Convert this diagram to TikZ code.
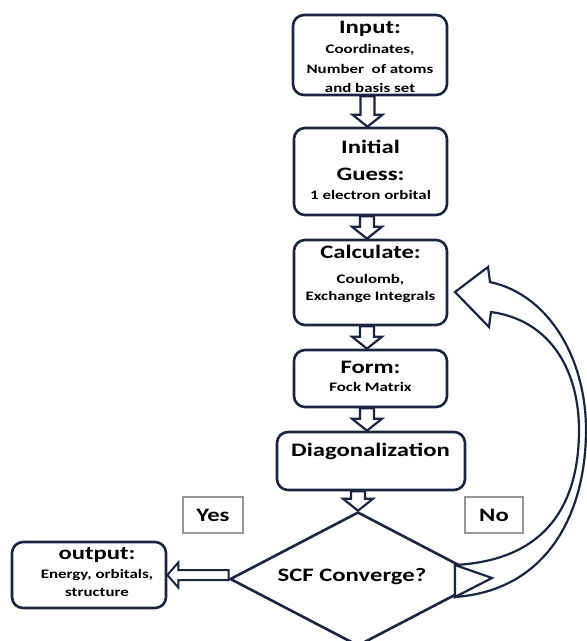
\documentclass[tikz,border=0pt]{standalone}
\usepackage{fontspec}
\setmainfont{Carlito}[FakeStretch=1.3]
\usetikzlibrary{shapes.geometric,calc}
\definecolor{navy}{RGB}{28,37,62}
\definecolor{lgray}{RGB}{150,150,150}
\tikzset{
  box/.style={draw=navy, line width=2.6pt, rounded corners=11pt, fill=white, inner sep=0pt},
  big/.style={anchor=base, inner sep=0pt, font=\bfseries\fontsize{19}{19}\selectfont, text=black},
  sml/.style={anchor=base, inner sep=0pt, font=\bfseries\fontsize{13}{13}\selectfont, text=black},
  tag/.style={draw=lgray, line width=1.1pt, fill=white, inner sep=0pt, font=\bfseries\fontsize{19}{19}\selectfont},
  blk/.style={draw=navy, line width=2.2pt, fill=white, line join=miter},
}
\newcommand\vblock[3]{%
  \draw[blk] let \p1=(#1.south), \p2=(#2.north), \p3=(#3,0) in
    (\x3-7pt,\y1) -- (\x3-7pt,\y2+12pt) -- (\x3-15pt,\y2+12pt) -- (\x3,\y2)
    -- (\x3+15pt,\y2+12pt) -- (\x3+7pt,\y2+12pt) -- (\x3+7pt,\y1) -- cycle;}
\begin{document}
\begin{tikzpicture}[x=1pt,y=-1pt]
\useasboundingbox (0,0) rectangle (587,641);
\fill[white] (0,0) rectangle (587,641);

% boxes
\node[box, minimum width=154pt, minimum height=80pt] (inp) at (370,55) {};
\node[box, minimum width=153pt, minimum height=87pt] (ini) at (370.5,171.5) {};
\node[box, minimum width=153pt, minimum height=85pt] (cal) at (370.5,282.5) {};
\node[box, minimum width=153pt, minimum height=57pt] (frm) at (370.5,378.5) {};
\node[box, minimum width=188pt, minimum height=58pt] (dia) at (371,461) {};
\node[box, minimum width=154pt, minimum height=66pt] (out) at (89,575) {};
\node[diamond, draw=navy, line width=2.6pt, fill=white, inner sep=0pt,
      minimum width=256pt, minimum height=134pt] (dec) at (358,579) {};

% texts
\node[big] (t1) at (370,33) {Input:};
\node[sml] (t2) at (370,53) {Coordinates,};
\node[sml] (t3) at (370,73) {Number\ \ of atoms};
\node[sml] (t4) at (370,92) {and basis set};
\node[big] (t5) at (370.5,153) {Initial};
\node[big] (t6) at (370.5,180) {Guess:};
\node[sml] (t7) at (370.5,199) {1 electron orbital};
\node[big] (t8) at (370.5,258) {Calculate:};
\node[sml] (t9) at (370.5,283) {Coulomb,};
\node[sml] (t10) at (370.5,300.5) {Exchange Integrals};
\node[big] (t11) at (370.5,373) {Form:};
\node[sml] (t12) at (370.5,391) {Fock Matrix};
\node[big] (t13) at (370.5,456) {Diagonalization};
\node[big] (t14) at (97,559) {output:};
\node[sml] (t15) at (97,578) {Energy, orbitals,};
\node[sml] (t16) at (97,596.5) {structure};
\node[big] (t17) at (352,581.5) {SCF Converge?};
\node[tag, minimum width=60pt, minimum height=36pt] (yes) at (213,515) {Yes};
\node[tag, minimum width=58pt, minimum height=36pt] (no) at (494,515) {No};

% block arrows
\vblock{inp}{ini}{367.5}
\vblock{ini}{cal}{367}
\vblock{cal}{frm}{367}
\vblock{frm}{dia}{367}
\vblock{dia}{dec}{358}

\draw[blk, line width=2pt] let \p1=(dec.west), \p2=(out.east) in
  (\x1,\y2+5pt) -- (\x2+11pt,\y2+5pt) -- (\x2+11pt,\y2+12.5pt) -- (\x2,\y2)
  -- (\x2+11pt,\y2-12.5pt) -- (\x2+11pt,\y2-5pt) -- (\x1,\y2-5pt) -- cycle;

% curved return arrow (No)
\coordinate (cb1) at (455,565);
\coordinate (cb2) at (455,597);
\coordinate (ctip) at (455,292);
\draw[blk] (cb2) .. controls (550,590) and (586,510) .. (586,430)
  .. controls (586,360) and (550,295) .. (490,282) -- (488,267) -- (ctip)
  -- (489,327) -- (491,312) .. controls (550,320) and (579,370) .. (579,430)
  .. controls (579,500) and (550,560) .. (cb1) -- cycle;
\coordinate (ctri) at (492,578);
\draw[blk] (cb1) -- (ctri) -- (cb2) -- cycle;
\end{tikzpicture}
\end{document}
